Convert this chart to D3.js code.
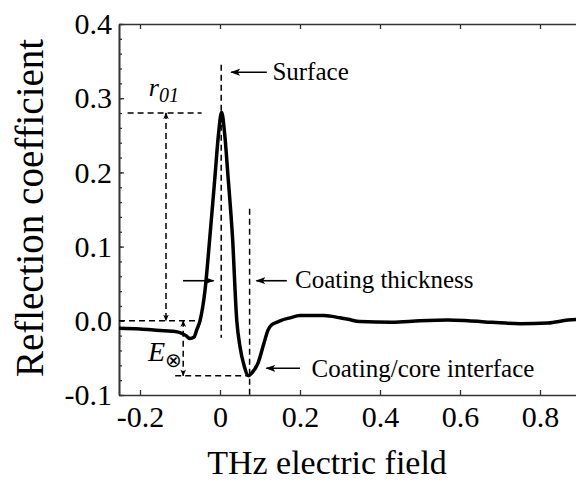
<!DOCTYPE html>
<html><head><meta charset="utf-8">
<script src="https://cdn.jsdelivr.net/npm/d3@7"></script>
<style>
html,body{margin:0;padding:0;background:#fff;}
svg text{font-family:"Liberation Serif","Times New Roman",serif;fill:#000;}
</style></head>
<body>
<svg id="chart" width="576" height="483"></svg>
<script>
// ---- data ----
const timeX = [-0.2525,-0.2,-0.15,-0.12,-0.1,-0.085,-0.075,-0.065,-0.058,-0.05,-0.0375,-0.025,-0.0125,-0.004,0.004,0.012,0.02,0.031,0.042,0.05,0.06,0.071,0.08,0.095,0.11,0.12,0.13,0.1375,0.15,0.175,0.2,0.26,0.3,0.32,0.35,0.43,0.5,0.57,0.62,0.68,0.75,0.82,0.87,0.9];
const reflY = [-0.010,-0.011,-0.013,-0.014,-0.016,-0.020,-0.024,-0.022,-0.012,0.0,0.041,0.115,0.195,0.25,0.281,0.25,0.195,0.115,0.0,-0.035,-0.06,-0.074,-0.07,-0.057,-0.03,-0.0125,-0.005,-0.003,0.0,0.004,0.007,0.007,0.004,0.002,-0.001,-0.002,0.0,0.001,0.0,-0.002,-0.004,-0.003,0.001,0.002];
const xTicks = [-0.2,0,0.2,0.4,0.6,0.8];
const yTicks = [-0.1,0.0,0.1,0.2,0.3,0.4];
const yMinorTicks = d3.range(-0.1,0.4001,0.02);
const xDomain = [-0.2525,0.9];
const yDomain = [-0.1,0.4];
const xTitle = "THz electric field";
const yTitle = "Reflection coefficient";
// annotation values in data units
const peakX = 0.003, peakY = 0.28, dipY = -0.074, dipX = 0.074;

const svg = d3.select("#chart");
const x = d3.scaleLinear(xDomain,[119,580]);
const y = d3.scaleLinear(yDomain,[395,24]);

// defs: arrowheads
const defs = svg.append("defs");
defs.append("marker").attr("id","ah").attr("viewBox","0 -5 10 10").attr("refX",9).attr("refY",0)
  .attr("markerWidth",10).attr("markerHeight",10).attr("markerUnits","userSpaceOnUse").attr("orient","auto")
  .append("path").attr("d","M0,-3.5L10,0L0,3.5L2.5,0Z").attr("fill","#000");
defs.append("marker").attr("id","ahs").attr("viewBox","0 -5 10 10").attr("refX",9).attr("refY",0)
  .attr("markerWidth",7).attr("markerHeight",7).attr("markerUnits","userSpaceOnUse").attr("orient","auto-start-reverse")
  .append("path").attr("d","M0,-4L10,0L0,4L3,0Z").attr("fill","#000");

const axisCol = "#333";
const tf = d => d===0 ? "0" : d3.format(".1f")(d).replace("\u2212","-");
// axes
const gB = svg.append("g").attr("transform",`translate(0,${y(yDomain[0])})`)
  .call(d3.axisBottom(x).tickValues(xTicks).tickSizeInner(-5).tickSizeOuter(0).tickPadding(11).tickFormat(tf));
const gT = svg.append("g").attr("transform",`translate(0,${y(yDomain[1])})`)
  .call(d3.axisTop(x).tickValues(xTicks).tickSizeInner(-5).tickSizeOuter(0).tickFormat(""));
const gL = svg.append("g").attr("transform",`translate(${x(xDomain[0])},0)`)
  .call(d3.axisLeft(y).tickValues(yTicks).tickSizeInner(-5).tickSizeOuter(0).tickPadding(7)
    .tickFormat(d=> d3.format(".1f")(d).replace("\u2212","-")));
const gLm = svg.append("g").attr("transform",`translate(${x(xDomain[0])},0)`)
  .call(d3.axisLeft(y).tickValues(yMinorTicks).tickSizeInner(-3).tickSizeOuter(0).tickFormat(""));
const gR = svg.append("g").attr("transform",`translate(${x(xDomain[1])},0)`)
  .call(d3.axisRight(y).tickValues(yTicks).tickSizeInner(-4).tickSizeOuter(0).tickFormat(""));
[gB,gT,gL,gLm,gR].forEach(g=>{
  g.select(".domain").attr("stroke",axisCol).attr("stroke-width",1.6);
  g.selectAll(".tick line").attr("stroke",axisCol).attr("stroke-width",1.3);
  g.selectAll("text").attr("font-size",30).attr("font-family",'"Liberation Serif","Times New Roman",serif').attr("fill","#000");
});

// axis titles
svg.append("text").attr("x",327).attr("y",474).attr("text-anchor","middle").attr("font-size",34).text(xTitle);
svg.append("text").attr("transform",`translate(43,208) rotate(-90)`).attr("text-anchor","middle").attr("font-size",39).text(yTitle);

// annotations (dashed)
const dash = g => g.attr("stroke","#000").attr("stroke-width",1.5).attr("stroke-dasharray","6,4").attr("fill","none");
const line = (x1,y1,x2,y2) => svg.append("line").attr("x1",x(x1)).attr("y1",y(y1)).attr("x2",x(x2)).attr("y2",y(y2));
dash(line(peakX,0.345,peakX,-0.023));
dash(line(-0.231,peakY,-0.046,peakY));
dash(line(-0.2525,0,-0.05,0));
dash(line(-0.135,peakY,-0.135,0)).attr("marker-start","url(#ahs)").attr("marker-end","url(#ahs)");
dash(line(-0.092,0,-0.092,dipY)).attr("marker-start","url(#ahs)").attr("marker-end","url(#ahs)");
dash(line(-0.112,dipY,dipX,dipY));
dash(line(dipX,0.151,dipX,-0.1));

// curve
svg.append("path").datum(d3.zip(timeX,reflY))
  .attr("d",d3.line().x(d=>x(d[0])).y(d=>y(d[1])).curve(d3.curveMonotoneX))
  .attr("fill","none").attr("stroke","#000").attr("stroke-width",3.5).attr("stroke-linejoin","round");

// solid arrows
const arrow = (x1,y1,x2,y2) => line(x1,y1,x2,y2).attr("stroke","#000").attr("stroke-width",1.6).attr("marker-end","url(#ah)");
arrow(0.117,0.335,0.028,0.335);
arrow(-0.0925,0.054,-0.016,0.054);
arrow(0.167,0.054,0.091,0.054);
arrow(0.2,-0.064,0.116,-0.064);

// labels
const lab = (xv,yv,t) => svg.append("text").attr("x",x(xv)).attr("y",y(yv)).attr("font-size",25).text(t);
lab(0.131,0.325,"Surface");
lab(0.1875,0.044,"Coating thickness");
lab(0.229,-0.076,"Coating/core interface");
const r = svg.append("text").attr("x",x(-0.178)).attr("y",y(0.303)).attr("font-size",26).attr("font-style","italic");
r.append("tspan").text("r");
r.append("tspan").attr("dy",6).attr("font-size",20).text("01");
const e = svg.append("text").attr("x",x(-0.18)).attr("y",y(-0.054)).attr("font-size",28).attr("font-style","italic");
e.append("tspan").text("E");
e.append("tspan").attr("dy",6).attr("font-size",20).attr("font-style","normal").text("\u2297");
</script>
</body></html>
